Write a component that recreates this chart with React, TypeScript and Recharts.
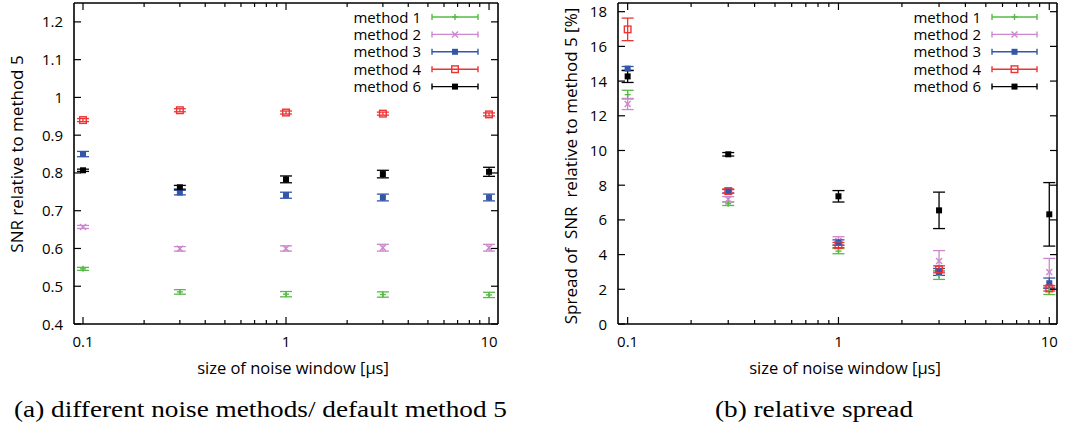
import React from 'react';
import { ScatterChart, Scatter, XAxis, YAxis, ErrorBar } from 'recharts';

// ---------- data ----------
const xValues = [0.1, 0.3, 1, 3, 10];
const seriesNames = ['method 1', 'method 2', 'method 3', 'method 4', 'method 6'];
const seriesColors = ['#55bb44', '#cc88cc', '#3355aa', '#ee3333', '#000000'];
const seriesMarkers = ['plus', 'cross', 'filled', 'open', 'filled'];

// (a) SNR relative to method 5
const snrM1 = [0.546, 0.485, 0.479, 0.478, 0.477];
const snrM2 = [0.657, 0.599, 0.6, 0.602, 0.602];
const snrM3 = [0.85, 0.748, 0.741, 0.735, 0.735];
const snrM4 = [0.94, 0.966, 0.96, 0.957, 0.955];
const snrM6 = [0.807, 0.762, 0.783, 0.797, 0.803];
const snrErrM1 = [0.004, 0.006, 0.007, 0.007, 0.007];
const snrErrM2 = [0.004, 0.006, 0.007, 0.009, 0.009];
const snrErrM3 = [0.007, 0.006, 0.008, 0.009, 0.009];
const snrErrM4 = [0.004, 0.004, 0.004, 0.004, 0.004];
const snrErrM6 = [0.003, 0.005, 0.009, 0.01, 0.012];

// (b) spread of SNR relative to method 5 [%]
const sprM1 = [13.22, 6.93, 4.2, 2.82, 1.9];
const sprM2 = [12.68, 7.19, 4.78, 3.63, 3.0];
const sprM3 = [14.72, 7.65, 4.7, 3.0, 2.35];
const sprM4 = [16.98, 7.66, 4.55, 3.15, 2.05];
const sprM6 = [14.27, 9.78, 7.36, 6.55, 6.32];
const sprErrM1 = [0.25, 0.1, 0.15, 0.25, 0.2];
const sprErrM2 = [0.32, 0.15, 0.25, 0.6, 0.78];
const sprErrM3 = [0.12, 0.1, 0.15, 0.2, 0.3];
const sprErrM4 = [0.65, 0.12, 0.15, 0.2, 0.15];
const sprErrM6 = [0.35, 0.1, 0.33, 1.05, 1.83];

// ticks
const xMajorTicks = [0.1, 1, 10];
const xTickLabels = ['0.1', '1', '10'];
const xAllTicks = [0.1, 0.2, 0.3, 0.4, 0.5, 0.6, 0.7, 0.8, 0.9, 1, 2, 3, 4, 5, 6, 7, 8, 9, 10];
const snrYTicks = [0.4, 0.5, 0.6, 0.7, 0.8, 0.9, 1, 1.1, 1.2];
const snrYLabels = ['0.4', '0.5', '0.6', '0.7', '0.8', '0.9', '1', '1.1', '1.2'];
const sprYTicks = [0, 2, 4, 6, 8, 10, 12, 14, 16, 18];
const sprYLabels = ['0', '2', '4', '6', '8', '10', '12', '14', '16', '18'];

const FONT = '"Open Sans", sans-serif';
const TICK_FS = 15;
const CAPTION_FONT = '"Liberation Serif", serif';

const toPoints = (ys: number[], errs: number[]) =>
  xValues.map((x, i) => ({ x, y: ys[i], err: errs[i] }));

const snrSeries = [
  toPoints(snrM1, snrErrM1),
  toPoints(snrM2, snrErrM2),
  toPoints(snrM3, snrErrM3),
  toPoints(snrM4, snrErrM4),
  toPoints(snrM6, snrErrM6),
];
const sprSeries = [
  toPoints(sprM1, sprErrM1),
  toPoints(sprM2, sprErrM2),
  toPoints(sprM3, sprErrM3),
  toPoints(sprM4, sprErrM4),
  toPoints(sprM6, sprErrM6),
];

// ---------- markers ----------
function Marker({ kind, cx, cy, color }: { kind: string; cx: number; cy: number; color: string }) {
  if (cx == null || cy == null) return null;
  switch (kind) {
    case 'plus':
      return (
        <g stroke={color} strokeWidth={1.4}>
          <line x1={cx - 3} x2={cx + 3} y1={cy} y2={cy} />
          <line x1={cx} x2={cx} y1={cy - 3} y2={cy + 3} />
        </g>
      );
    case 'cross':
      return (
        <g stroke={color} strokeWidth={1.4}>
          <line x1={cx - 3} x2={cx + 3} y1={cy - 3} y2={cy + 3} />
          <line x1={cx - 3} x2={cx + 3} y1={cy + 3} y2={cy - 3} />
        </g>
      );
    case 'open':
      return <rect x={cx - 3.3} y={cy - 3.3} width={6.6} height={6.6} fill="none" stroke={color} strokeWidth={1.4} />;
    default:
      return <rect x={cx - 3} y={cy - 3} width={6} height={6} fill={color} />;
  }
}

// ---------- ticks ----------
function XTickBottom(props: any) {
  const { x, y, payload } = props;
  const v = payload.value;
  const idx = xMajorTicks.indexOf(v);
  const major = idx >= 0;
  return (
    <g>
      <line x1={x} x2={x} y1={y} y2={y - (major ? 7 : 4)} stroke="#000" strokeWidth={1.2} />
      {major && (
        <text x={x} y={y + 23} textAnchor="middle" fontSize={TICK_FS} fontFamily={FONT} fill="#000">
          {xTickLabels[idx]}
        </text>
      )}
    </g>
  );
}
function XTickTop(props: any) {
  const { x, y, payload } = props;
  const major = xMajorTicks.indexOf(payload.value) >= 0;
  return <line x1={x} x2={x} y1={y} y2={y + (major ? 7 : 4)} stroke="#000" strokeWidth={1.2} />;
}
function makeYTickLeft(ticks: number[], labels: string[]) {
  return function YTickLeft(props: any) {
    const { x, y, payload } = props;
    const idx = ticks.findIndex((t) => Math.abs(t - payload.value) < 1e-9);
    return (
      <g>
        <line x1={x} x2={x + 7} y1={y} y2={y} stroke="#000" strokeWidth={1.2} />
        <text x={x - 11} y={y + 5.5} textAnchor="end" fontSize={TICK_FS} fontFamily={FONT} fill="#000">
          {idx >= 0 ? labels[idx] : ''}
        </text>
      </g>
    );
  };
}
function YTickRight(props: any) {
  const { x, y } = props;
  return <line x1={x} x2={x - 7} y1={y} y2={y} stroke="#000" strokeWidth={1.2} />;
}

const xDomain = [0.0903, 11.07];
const axisLine = { stroke: '#000', strokeWidth: 1.6 };

function Panel(props: {
  left: number;
  width: number;
  plotLeft: number;
  plotRight: number;
  xDom: number[];
  yDomain: number[];
  yTicks: number[];
  yLabels: string[];
  data: { x: number; y: number; err: number }[][];
}) {
  const { left, width, plotLeft, plotRight, xDom, yDomain, yTicks, yLabels, data } = props;
  const YL = makeYTickLeft(yTicks, yLabels);
  return (
    <div style={{ position: 'absolute', left, top: 0 }}>
      <ScatterChart
        width={width}
        height={425}
        margin={{ top: 2, right: width - plotRight - 1, bottom: 100, left: plotLeft - 1 }}
      >
        <XAxis
          xAxisId="b"
          dataKey="x"
          type="number"
          scale="log"
          domain={xDom}
          allowDataOverflow
          ticks={xAllTicks}
          interval={0}
          tick={<XTickBottom />}
          tickLine={false}
          tickSize={0}
          tickMargin={0}
          height={1}
          axisLine={axisLine}
        />
        <XAxis
          xAxisId="t"
          orientation="top"
          dataKey="x"
          type="number"
          scale="log"
          domain={xDom}
          allowDataOverflow
          ticks={xAllTicks}
          interval={0}
          tick={<XTickTop />}
          tickLine={false}
          tickSize={0}
          tickMargin={0}
          height={1}
          axisLine={axisLine}
        />
        <YAxis
          yAxisId="l"
          dataKey="y"
          type="number"
          domain={yDomain}
          allowDataOverflow
          ticks={yTicks}
          interval={0}
          tick={<YL />}
          tickLine={false}
          tickSize={0}
          tickMargin={0}
          width={1}
          axisLine={axisLine}
        />
        <YAxis
          yAxisId="r"
          orientation="right"
          dataKey="y"
          type="number"
          domain={yDomain}
          allowDataOverflow
          ticks={yTicks}
          interval={0}
          tick={<YTickRight />}
          tickLine={false}
          tickSize={0}
          tickMargin={0}
          width={1}
          axisLine={axisLine}
        />
        {data.map((pts, i) => (
          <Scatter
            key={seriesNames[i]}
            name={seriesNames[i]}
            data={pts}
            xAxisId="b"
            yAxisId="l"
            isAnimationActive={false}
            fill={seriesColors[i]}
            shape={(p: any) => <Marker kind={seriesMarkers[i]} cx={p.cx} cy={p.cy} color={seriesColors[i]} />}
          >
            <ErrorBar dataKey="err" direction="y" width={6} stroke={seriesColors[i]} strokeWidth={1.3} />
          </Scatter>
        ))}
      </ScatterChart>
    </div>
  );
}

function LegendBox({ textRight, lineL, lineR }: { textRight: number; lineL: number; lineR: number }) {
  const rowY = [17, 34.4, 51.8, 69.2, 86.6];
  const mid = (lineL + lineR) / 2;
  return (
    <g>
      {seriesNames.map((n, i) => (
        <g key={n}>
          <text x={textRight} y={rowY[i] + 5.5} textAnchor="end" fontSize={TICK_FS} fontFamily={FONT} fill="#000">
            {n}
          </text>
          <g stroke={seriesColors[i]} strokeWidth={1.4}>
            <line x1={lineL} x2={lineR} y1={rowY[i]} y2={rowY[i]} />
            <line x1={lineL} x2={lineL} y1={rowY[i] - 3} y2={rowY[i] + 3} />
            <line x1={lineR} x2={lineR} y1={rowY[i] - 3} y2={rowY[i] + 3} />
          </g>
          <Marker kind={seriesMarkers[i]} cx={mid} cy={rowY[i]} color={seriesColors[i]} />
        </g>
      ))}
    </g>
  );
}

export default function App() {
  return (
    <div style={{ position: 'absolute', left: 0, top: 0, width: 1074, height: 425, background: '#fff', overflow: 'hidden' }}>
      <Panel
        left={0}
        width={540}
        plotLeft={74}
        plotRight={498}
        xDom={xDomain}
        yDomain={[0.4, 1.25]}
        yTicks={snrYTicks}
        yLabels={snrYLabels}
        data={snrSeries}
      />
      <Panel
        left={540}
        width={534}
        plotLeft={78}
        plotRight={517}
        xDom={[0.09, 10.88]}
        yDomain={[0, 18.5]}
        yTicks={sprYTicks}
        yLabels={sprYLabels}
        data={sprSeries}
      />
      <svg width={1074} height={425} style={{ position: 'absolute', left: 0, top: 0, pointerEvents: 'none' }}>
        <LegendBox textRight={421} lineL={432} lineR={478} />
        <LegendBox textRight={981} lineL={992} lineR={1037} />
        <text
          transform="translate(23,154) rotate(-90)"
          textAnchor="middle"
          fontSize={17}
          fontFamily={FONT}
          fill="#000"
        >
          SNR relative to method 5
        </text>
        <text
          transform="translate(577,166) rotate(-90)"
          textAnchor="middle"
          fontSize={17}
          fontFamily={FONT}
          fill="#000"
          style={{ whiteSpace: 'pre' }}
        >
          {'Spread of  SNR  relative to method 5 [%]'}
        </text>
        <text x={293} y={374} textAnchor="middle" fontSize={16.5} fontFamily={FONT} fill="#000">
          size of noise window [μs]
        </text>
        <text x={845} y={374} textAnchor="middle" fontSize={16.5} fontFamily={FONT} fill="#000">
          size of noise window [μs]
        </text>
        <text
          x={14}
          y={417}
          fontSize={23}
          textLength={493}
          lengthAdjust="spacingAndGlyphs"
          fontFamily={CAPTION_FONT}
          fill="#000"
        >
          (a) different noise methods/ default method 5
        </text>
        <text
          x={715}
          y={417}
          fontSize={23}
          textLength={198}
          lengthAdjust="spacingAndGlyphs"
          fontFamily={CAPTION_FONT}
          fill="#000"
        >
          (b) relative spread
        </text>
      </svg>
    </div>
  );
}
